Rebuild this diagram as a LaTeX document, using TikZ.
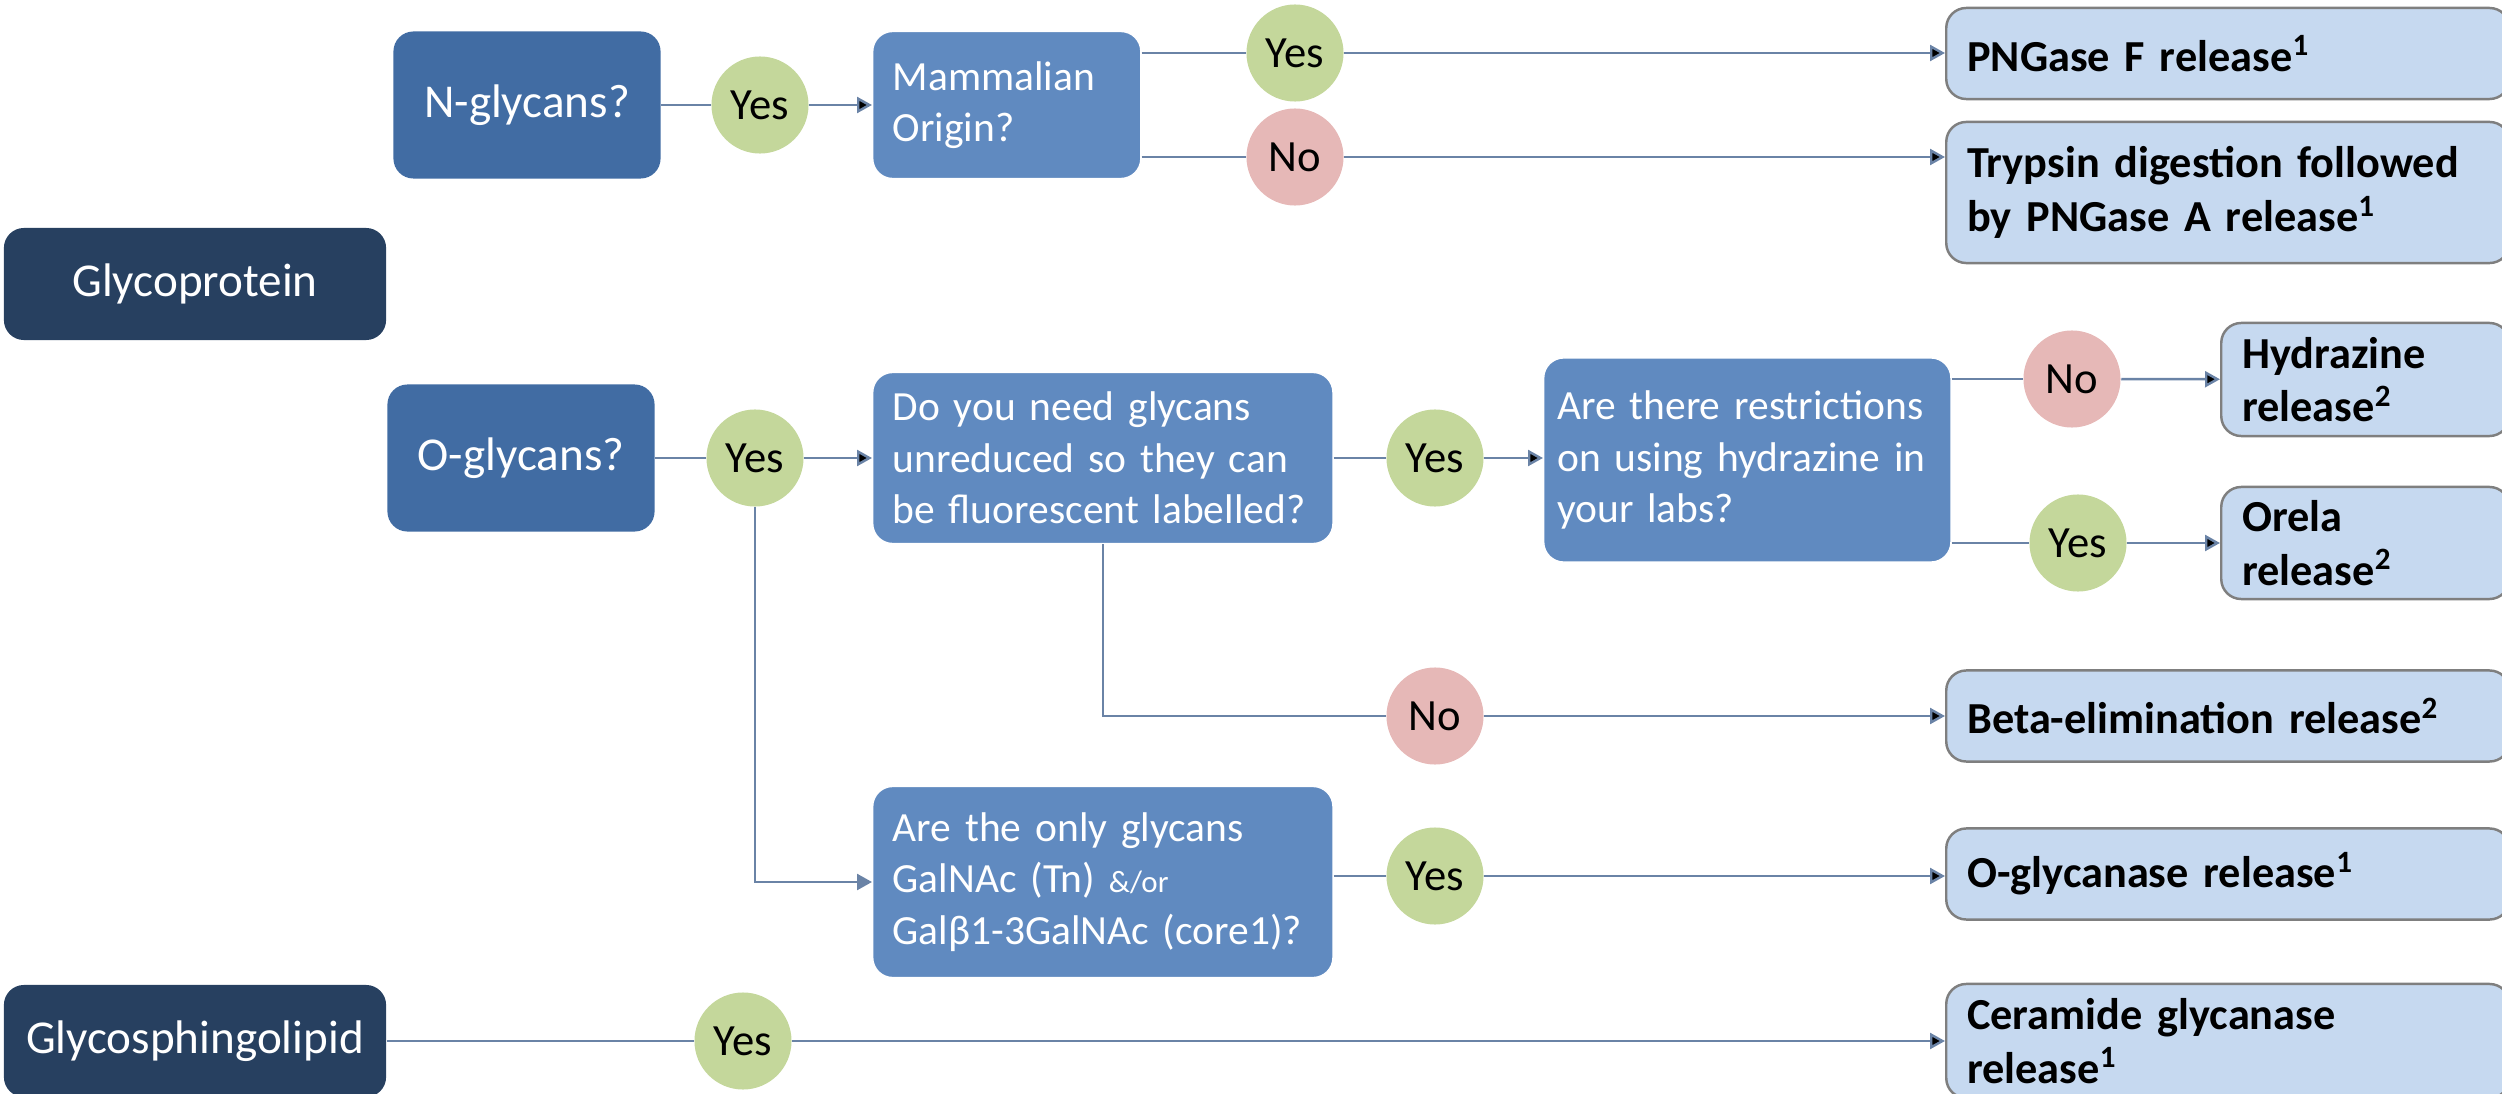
\documentclass[tikz,border=0pt]{standalone}
\usepackage{fontspec}
\setmainfont{Carlito}
\usepackage{xcolor}
\usepackage{tikz}
\usetikzlibrary{arrows.meta}
\definecolor{rootblue}{RGB}{39,64,96}
\definecolor{kindblue}{RGB}{65,108,163}
\definecolor{askblue}{RGB}{96,138,192}
\definecolor{resultfill}{RGB}{198,217,240}
\definecolor{resultline}{RGB}{127,127,127}
\definecolor{yesgreen}{RGB}{196,215,155}
\definecolor{nored}{RGB}{230,184,183}
\definecolor{linkgray}{RGB}{106,131,166}
\tikzset{flow/.style={x=0.01cm,y=-0.01cm,>={Triangle[length=0.15cm,width=0.16cm]}},
    link/.style={draw=linkgray,line width=0.7pt},
    root/.style={rectangle,rounded corners=0.2cm,fill=rootblue,text=white,
        font=\fontsize{13.4}{16}\selectfont,minimum width=3.82cm,minimum height=1.12cm},
    kind/.style={rectangle,rounded corners=0.2cm,fill=kindblue,text=white,
        font=\fontsize{13.4}{16}\selectfont,minimum width=2.67cm,minimum height=1.47cm},
    question/.style={rectangle,rounded corners=0.2cm,fill=askblue,draw=white,line width=0.4pt,
        text=white,align=left,inner xsep=0.2cm,anchor=west,font=\fontsize{11.8}{14.6}\selectfont},
    result/.style={rectangle,rounded corners=0.2cm,fill=resultfill,draw=resultline,line width=0.7pt,
        align=left,inner xsep=0.21cm,anchor=west,font=\bfseries\fontsize{12.6}{15.2}\selectfont},
    answer/.style={circle,minimum size=0.97cm,inner sep=0pt,font=\fontsize{12.7}{15}\selectfont},
    yesans/.style={answer,fill=yesgreen},
    noans/.style={answer,fill=nored}}

\begin{document}
\begin{tikzpicture}[flow]
    \useasboundingbox (0,0) rectangle (2502,1094);
    % starting points
    \node[root](glycoprotein) at (195,284) {Glycoprotein};
    \node[root](glycosphingolipid) at (195,1041) {Glycosphingolipid};
    \node[kind](nglycans) at (527,105) {N-glycans?};
    \node[kind](oglycans) at (521,458) {O-glycans?};

    % questions
    \node[question, text width=2.28cm, minimum height=1.47cm](mammal) at (872,105) {Mammalian\\Origin?};
    \node[question, text width=4.2cm, minimum height=1.71cm](unreduced) at (872,458)
        {Do you need glycans\\unreduced so they can\\be fluorescent labelled?};
    \node[question, text width=3.8cm, inner xsep=0.135cm, minimum height=2.04cm](restrict) at (1543,460)
        {Are there restrictions\\on using hydrazine in\\your labs?};
    \node[question, text width=4.2cm, minimum height=1.91cm](onlycore) at (872,882)
        {Are the only glycans\\GalNAc (Tn) {\fontsize{8.8}{10}\selectfont\&/or}\\Galβ1-3GalNAc (core1)?};

    % answers
    \node[yesans](yesmammal) at (760,105) {Yes};
    \node[yesans](yespngf) at (1295,53) {Yes};
    \node[noans](nopngf) at (1295,157) {No};
    \node[yesans](yesunred) at (755,458) {Yes};
    \node[yesans](yesrestrict) at (1435,458) {Yes};
    \node[noans](nohydrazine) at (2072,379) {No};
    \node[yesans](yesorela) at (2078,543) {Yes};
    \node[noans](nobeta) at (1435,716) {No};
    \node[yesans](yescore) at (1435,876) {Yes};
    \node[yesans](yesceramide) at (743,1041) {Yes};

    % releases
    \node[result, text width=5.21cm, minimum height=0.91cm](pngf) at (1945,53.5) {PNGase F release\textsuperscript{1}};
    \node[result, text width=5.21cm, minimum height=1.41cm](trypsin) at (1945,192.5)
        {Trypsin digestion followed\\by PNGase A release\textsuperscript{1}};
    \node[result, text width=2.46cm, minimum height=1.13cm](hydrazine) at (2220,379.5) {Hydrazine\\release\textsuperscript{2}};
    \node[result, text width=2.46cm, minimum height=1.12cm](orela) at (2220,543) {Orela\\release\textsuperscript{2}};
    \node[result, text width=5.21cm, minimum height=0.91cm](beta) at (1945,716) {Beta-elimination release\textsuperscript{2}};
    \node[result, text width=5.21cm, minimum height=0.91cm](oglycanase) at (1945,874) {O-glycanase release\textsuperscript{1}};
    \node[result, text width=5.21cm, minimum height=1.14cm](ceramide) at (1945,1041)
        {Ceramide glycanase\\release\textsuperscript{1}};

    % connectors
    \path[link] (nglycans) edge (yesmammal);
    \path[link,->] (yesmammal) edge (mammal);
    \path[link] (mammal.east |- yespngf) edge (yespngf);
    \path[link,->] (yespngf) edge (pngf.west |- yespngf);
    \path[link] (mammal.east |- nopngf) edge (nopngf);
    \path[link,->] (nopngf) edge (trypsin.west |- nopngf);
    \path[link] (oglycans) edge (yesunred);
    \path[link,->] (yesunred) edge (unreduced.west |- yesunred);
    \path[link] (unreduced.east |- yesrestrict) edge (yesrestrict);
    \path[link,->] (yesrestrict) edge (restrict.west |- yesrestrict);
    \path[link] (restrict.east |- nohydrazine) edge (nohydrazine);
    \path[link,->] (nohydrazine) edge (hydrazine);
    \path[link] (restrict.east |- yesorela) edge (yesorela);
    \path[link,->] (yesorela) edge (orela);
    \draw[link] (unreduced.south) |- (nobeta);
    \path[link,->] (nobeta) edge (beta);
    \draw[link,->] (yesunred.south) |- (onlycore.west);
    \path[link] (onlycore.east |- yescore) edge (yescore);
    \path[link,->] (yescore) edge (oglycanase.west |- yescore);
    \path[link] (glycosphingolipid) edge (yesceramide);
    \path[link,->] (yesceramide) edge (ceramide);
\end{tikzpicture}
\end{document}
